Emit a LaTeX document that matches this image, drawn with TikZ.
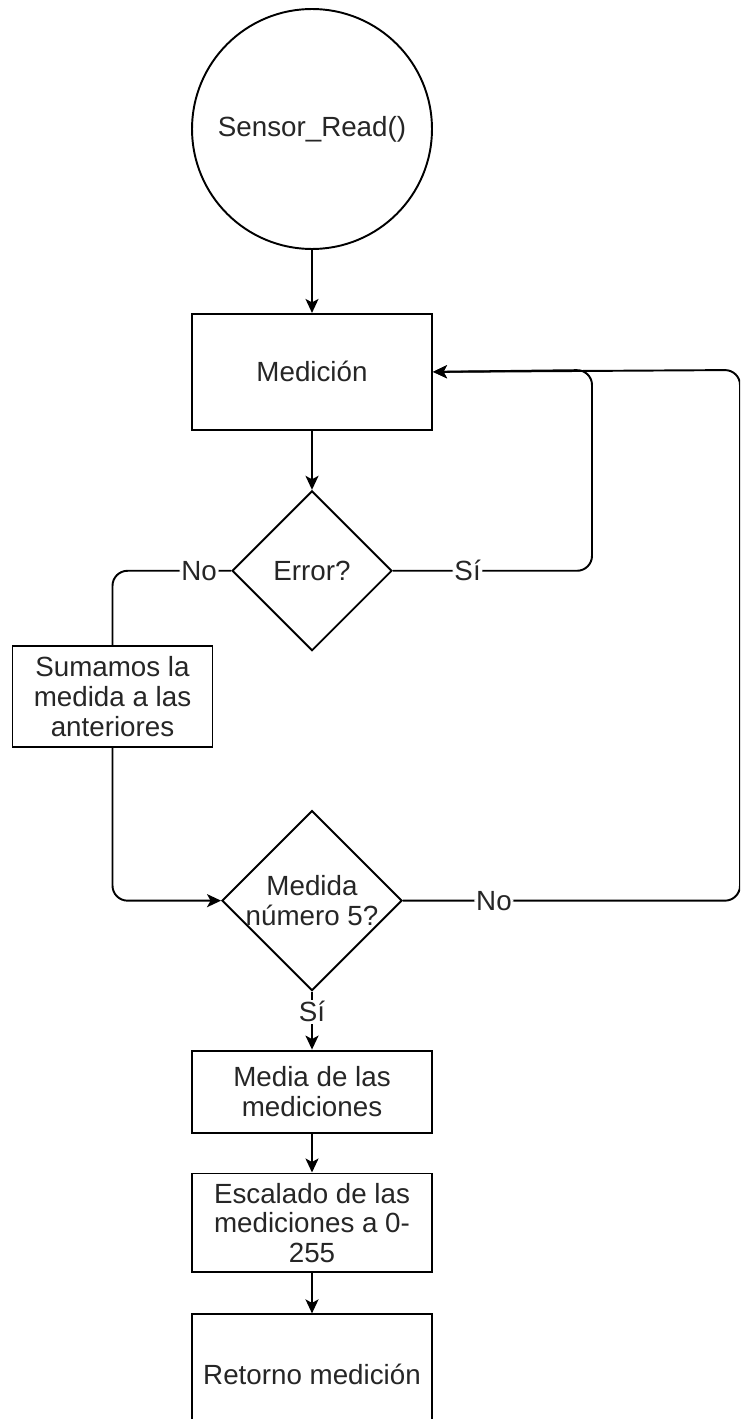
\documentclass[tikz,border=0pt]{standalone}
\usepackage{fontspec}
\setmainfont{Liberation Sans}
\usetikzlibrary{arrows.meta,positioning,shapes.geometric}

\begin{document}
\begin{tikzpicture}[
  x=0.02cm, y=-0.02cm,
  every node/.style={font=\fontsize{15.8}{17}\selectfont, text=black!85},
  start/.style={circle, draw, line width=1.1pt, minimum size=4.8cm, inner sep=0pt},
  block/.style={rectangle, draw, line width=1.1pt, minimum width=4.8cm, align=center, inner sep=2pt},
  decision/.style={diamond, draw, line width=1.1pt, inner sep=0pt},
  lbl/.style={fill=white, inner sep=1pt},
  flow/.style={-{Stealth[length=2.8mm, width=2.6mm, inset=0.7mm]}, line width=1.1pt},
  wire/.style={line width=1.1pt, rounded corners=0.3cm}
]
  \useasboundingbox (0,0) rectangle (740,1419);
  \clip (0,0) rectangle (740,1419);

  % main column
  \node[start] (read) at (312,129) {Sensor\_Read()};
  \node[block, minimum height=2.32cm, below=1.26cm of read] (meas) {Medición};
  \node[decision, minimum width=3.2cm, minimum height=3.2cm, below=1.18cm of meas] (err) {Error?};
  \node[block, minimum width=4cm, minimum height=2.02cm] (sum) at (112.5,696.5) {Sumamos la\\medida a las\\anteriores};
  \node[decision, minimum width=3.6cm, minimum height=3.6cm, below=3.16cm of err,
        label={[align=center]center:Medida\\número 5?}] (cnt) {};
  \node[block, minimum height=1.64cm, below=1.16cm of cnt] (avg) {Media de las\\mediciones};
  \node[block, minimum height=1.98cm, below=0.78cm of avg] (scl) {Escalado de las\\mediciones a 0-\\255};
  \node[block, minimum height=2.4cm, below=0.8cm of scl] (ret) {Retorno medición};

  % turning points of the loops back to the measurement
  \coordinate (siTurn) at (592,370);
  \coordinate (noTurn) at (740,370);

  \draw[flow] (read) -- (meas);
  \draw[flow] (meas) -- (err);
  \draw[wire, flow] (err.east) -- node[lbl, pos=0.375] {Sí} (err.east -| siTurn) -- (siTurn) -- (meas.east);
  \draw[wire] (err.west) -- node[lbl, pos=0.27] {No} (err.west -| sum.north) -- (sum.north);
  \draw[wire, flow] (sum.south) |- (cnt.west);
  \draw[wire, flow] (cnt.east) -- node[lbl, pos=0.27] {No} (cnt.east -| noTurn) -- (noTurn) -- (meas.east);
  \draw[flow] (cnt.south) -- node[lbl, pos=0.35] {Sí} (avg.north);
  \draw[flow] (avg) -- (scl);
  \draw[flow] (scl) -- (ret);
\end{tikzpicture}
\end{document}
